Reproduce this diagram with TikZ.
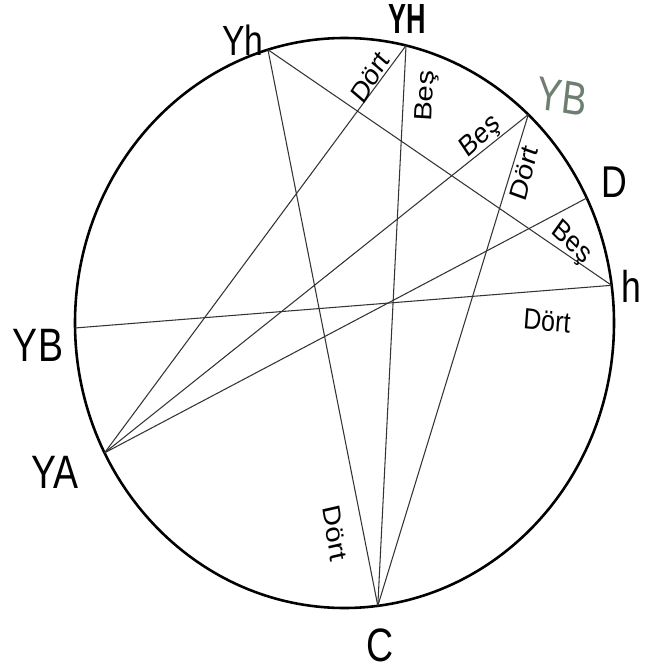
\documentclass[tikz,border=0pt]{standalone}
\usepackage{fontspec}
\setmainfont{Liberation Sans}
\usetikzlibrary{calc}
\definecolor{chordgray}{HTML}{333333}
\definecolor{pencilgreen}{HTML}{6E7F72}
\tikzset{
  rim/.style={draw=black,line width=2.2pt},
  chord/.style={draw=chordgray,line width=.9pt},
  pointlabel/.style={font=\fontsize{40}{40}\selectfont,inner sep=0pt,xscale=.8},
  chordlabel/.style={font=\fontsize{25}{25}\selectfont,inner sep=0pt,xscale=.85},
}

\begin{document}
\begin{tikzpicture}[x=.03cm,y=-.03cm]
  \useasboundingbox (0,0) rectangle (647,670);
  \coordinate (O) at (344.5,323);
  \draw[rim] (O) ellipse [x radius=269.5,y radius=285];
  % points on the rim
  \foreach \n/\t in {Yh/-106.5,YH/-76.8,YBr/-47,D/-26,h/-7.6,YBl/179,YA/152.9,C/82.9}
    \coordinate (\n) at ($(O)+(\t:269.5 and 285)$);
  % chords
  \draw[chord] (Yh) -- (C);
  \draw[chord] (Yh) -- (h);
  \draw[chord] (YH) -- (YA);
  \draw[chord] (YH) -- (C);
  \draw[chord] (YBr) -- (YA);
  \draw[chord] (YBr) -- (C);
  \draw[chord] (D) -- (YA);
  \draw[chord] (YBl) -- (h);
  % rim labels
  \node[pointlabel,font=\fontsize{36}{36}\selectfont] (lYh) at (243,40) {Yh};
  \node[pointlabel,font=\bfseries\fontsize{36}{36}\selectfont,xscale=.8] (lYH) at (407,19) {YH};
  \node[pointlabel,text=pencilgreen,rotate=-8] (lYBr) at (562,97) {YB};
  \node[pointlabel,font=\fontsize{38}{38}\selectfont] (lD) at (614,182) {D};
  \node[pointlabel,font=\fontsize{38}{38}\selectfont] (lh) at (631,286) {h};
  \node[pointlabel] (lYBl) at (38,345) {YB};
  \node[pointlabel] (lYA) at (55,472) {YA};
  \node[pointlabel] (lC) at (380,645) {C};
  % chord labels
  \node[chordlabel,rotate=54] (t1) at (370,77) {Dört};
  \node[chordlabel,rotate=87] (t2) at (427,96) {Beş};
  \node[chordlabel,rotate=38] (t3) at (481,137) {Beş};
  \node[chordlabel,rotate=73] (t4) at (524,173) {Dört};
  \node[chordlabel,rotate=-40] (t5) at (571,243) {Beş};
  \node[chordlabel,rotate=-5] (t6) at (547,321) {Dört};
  \node[chordlabel,rotate=-79] (t7) at (335,533) {Dört};
\end{tikzpicture}
\end{document}
